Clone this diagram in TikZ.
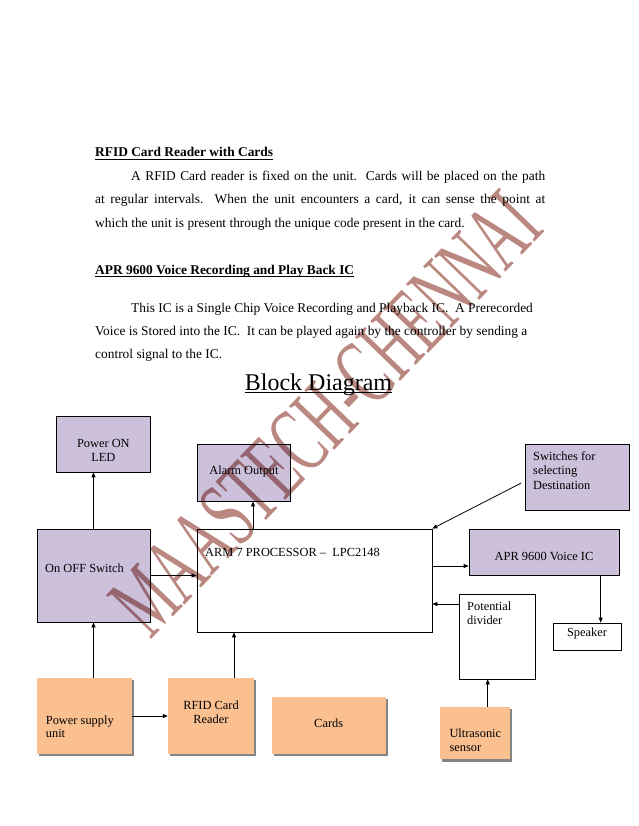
\documentclass[tikz,border=0pt]{standalone}
\usepackage{fontspec}
\setmainfont{Liberation Serif}
\usetikzlibrary{arrows.meta,shadows,calc}
\definecolor{lav}{RGB}{204,192,218}
\definecolor{org}{RGB}{250,192,144}
\definecolor{wmark}{RGB}{186,135,129}
\begin{document}
\begin{tikzpicture}[x=1pt,y=-1pt,
  bodytext/.style={anchor=base west, inner sep=0, font=\fontsize{13.4}{16}\selectfont},
  boxtxt/.style={inner sep=0, font=\fontsize{12.4}{14}\selectfont},
  ltxt/.style={boxtxt, anchor=base west},
  ctxt/.style={boxtxt, align=center},
  lavbox/.style={draw=black, line width=0.8pt, fill=lav, inner sep=0},
  whitebox/.style={draw=black, line width=0.8pt, fill=white, inner sep=0},
  orgbox/.style={fill=org, inner sep=0, drop shadow={shadow xshift=2.2pt, shadow yshift=-2.2pt, fill=black!60, opacity=0.8}},
  uline/.style={line width=0.9pt},
  arr/.style={line width=0.8pt, -{Triangle[length=5pt,width=4pt]}}
]
\fill[white] (0,0) rectangle (638,826);
\useasboundingbox (0,0) rectangle (638,826);

% ---- text section
\node[bodytext] (h1) at (95,157) {\textbf{RFID Card Reader with Cards}};
\draw[uline] ([yshift=-2pt]h1.base west) -- ([yshift=-2pt]h1.base east);
\node[bodytext] (p1a) at (131,181) {\makebox[414pt][s]{A RFID Card reader is fixed on the unit.\ \ Cards will be placed on the path}};
\node[bodytext] (p1b) at (95,204) {\makebox[450pt][s]{at regular intervals.\ \ When the unit encounters a card, it can sense the point at}};
\node[bodytext] (p1c) at (95,227) {which the unit is present through the unique code present in the card.};
\node[bodytext] (h2) at (95,274) {\textbf{APR 9600 Voice Recording and Play Back IC}};
\draw[uline] ([yshift=-2pt]h2.base west) -- ([yshift=-2pt]h2.base east);
\node[bodytext] (p2a) at (131,312) {This IC is a Single Chip Voice Recording and Playback IC.\ \ A Prerecorded};
\node[bodytext] (p2b) at (95,335) {Voice is Stored into the IC.\ \ It can be played again by the controller by sending a};
\node[bodytext] (p2c) at (95,358) {control signal to the IC.};
\node[anchor=base, inner sep=0, font=\fontsize{24}{28}\selectfont] (title) at (318.5,390) {Block Diagram};
\draw[line width=1.1pt] ([yshift=-2.5pt]title.base west) -- ([yshift=-2.5pt]title.base east);

% ---- boxes
\node[lavbox, minimum width=93.3pt, minimum height=56pt] (led) at (103.35,444) {};
\node[lavbox, minimum width=93.4pt, minimum height=57pt] (alarm) at (244,472.5) {};
\node[lavbox, minimum width=113pt, minimum height=93pt] (onoff) at (93.5,575.5) {};
\node[whitebox, minimum width=235pt, minimum height=103pt] (arm) at (314.5,580.5) {};
\node[lavbox, minimum width=103.3pt, minimum height=66pt] (sw) at (577.35,477) {};
\node[lavbox, minimum width=150pt, minimum height=46pt] (apr) at (544,552) {};
\node[whitebox, minimum width=75.7pt, minimum height=84.7pt] (pot) at (497.15,636.65) {};
\node[whitebox, minimum width=68pt, minimum height=27pt] (spk) at (587,636.5) {};
\node[orgbox, minimum width=95pt, minimum height=76pt] (psu) at (84.2,716) {};
\node[orgbox, minimum width=86pt, minimum height=76pt] (rfid) at (211,716) {};
\node[orgbox, minimum width=114pt, minimum height=57.3pt] (cards) at (328.7,725.35) {};
\node[orgbox, minimum width=70pt, minimum height=52.6pt] (ultra) at (475,733) {};

% ---- box texts
\node[ctxt] (tled) at (103.35,450) {Power ON\\LED};
\node[ctxt] (talarm) at (244,472) {Alarm Output};
\node[ltxt] (tonoff) at (45,572) {On OFF Switch};
\node[ltxt] (tarm) at (205,556) {ARM 7 PROCESSOR --\ \ LPC2148};
\node[ltxt] (tsw1) at (533,460) {Switches for};
\node[ltxt] (tsw2) at (533,474) {selecting};
\node[ltxt] (tsw3) at (533,489) {Destination};
\node[ctxt] (tapr) at (544,556) {APR 9600 Voice IC};
\node[ltxt] (tpot1) at (467,610) {Potential};
\node[ltxt] (tpot2) at (467,624) {divider};
\node[ctxt] (tspk) at (587,634) {Speaker};
\node[ltxt] (tpsu1) at (45.7,724) {Power supply};
\node[ltxt] (tpsu2) at (45.7,737) {unit};
\node[ctxt] (trfid) at (211,712) {RFID Card\\Reader};
\node[ctxt] (tcards) at (328.7,723) {Cards};
\node[ltxt] (tult1) at (449.3,737) {Ultrasonic};
\node[ltxt] (tult2) at (449.3,751) {sensor};

% ---- connectors
\draw[arr] (onoff.north) -- (onoff.north |- led.south);
\draw[arr] (arm.north -| 253,0) -- (alarm.south -| 253,0);
\draw[arr] (onoff.east) -- (onoff.east -| arm.west);
\draw[arr] (arm.east |- 0,566) -- (apr.west |- 0,566);
\draw[arr] (pot.west |- 0,604) -- (arm.east |- 0,604);
\draw[arr] (apr.south -| 600.7,0) -- (spk.north -| 600.7,0);
\draw[arr] ($(sw.west)+(-4,6)$) -- (arm.north east);
\draw[arr] (onoff.south |- psu.north) -- (onoff.south);
\draw[arr] (rfid.north -| 234,0) -- (arm.south -| 234,0);
\draw[arr] (psu.east) -- (rfid.west);
\draw[arr] (ultra.north -| 487.7,0) -- (pot.south -| 487.7,0);

% ---- watermark
\begin{scope}[blend mode=multiply]
\node[anchor=base west, inner sep=0, rotate=46, text=wmark, font=\fontsize{96}{96}\selectfont] (wm) at (150,641) {\scalebox{0.575}[1]{MAASTECH-CHENNAI}};
\end{scope}
\end{tikzpicture}
\end{document}
